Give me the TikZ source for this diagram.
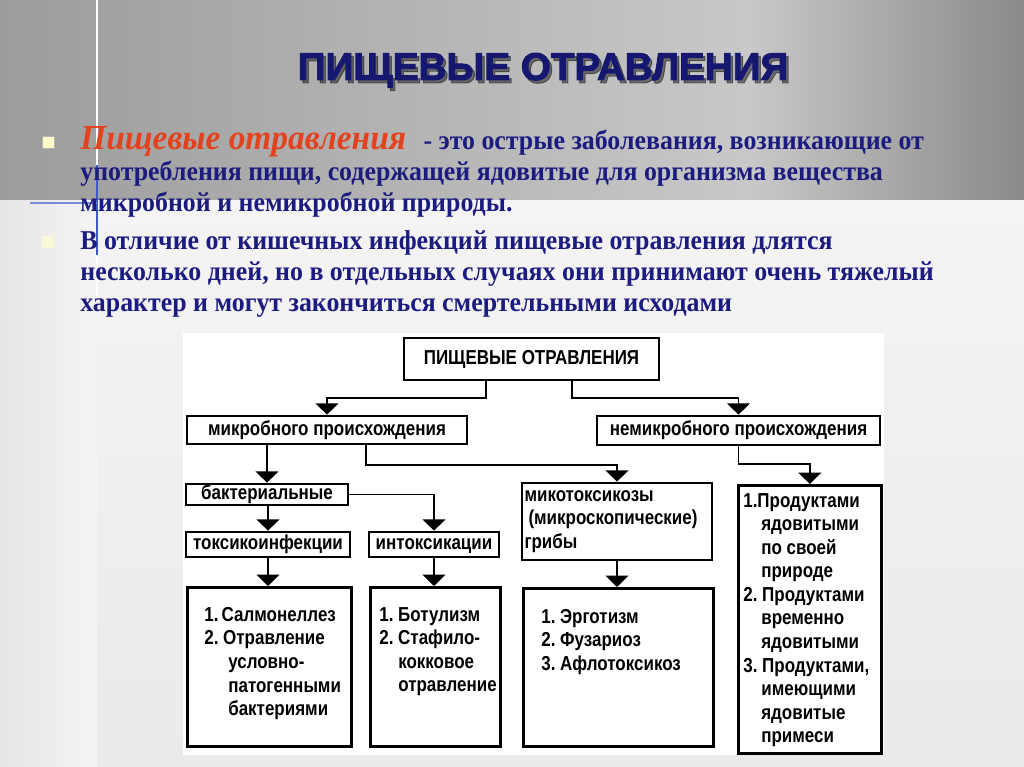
\documentclass[tikz,border=0pt]{standalone}
\usepackage{fontspec}
\setmainfont{Liberation Serif}
\newfontfamily\bodyfont[FakeStretch=0.95]{Liberation Serif}
\newfontfamily\diagfont[FakeStretch=0.84]{Liberation Sans}
\newfontfamily\headfont[FakeBold=2.5]{Liberation Sans}
\usepackage{tikz}
\usetikzlibrary{arrows.meta,calc}
\definecolor{navy}{RGB}{28,28,128}
\definecolor{headblue}{RGB}{22,24,112}
\definecolor{redtitle}{RGB}{226,66,30}
\definecolor{bandleft}{RGB}{156,156,156}
\definecolor{bandmid}{RGB}{200,200,200}
\definecolor{bandright}{RGB}{138,138,138}
\definecolor{pagetop}{RGB}{244,244,244}
\definecolor{pagebottom}{RGB}{234,234,234}
\definecolor{streak}{RGB}{60,90,200}
\tikzset{
  box/.style={draw, line width=1.5pt, inner sep=0pt, fill=white,
    font=\diagfont\bfseries\fontsize{11.5}{13.4}\selectfont},
  tag/.style={box, text height=8pt, text depth=2pt},
  arr/.style={line width=1.1pt, -{Triangle[width=13pt,length=6.5pt]}},
  bullet/.style={rectangle, minimum size=0.24cm, inner sep=0pt},
  bodytext/.style={anchor=base west, align=left, inner sep=0pt, text=navy,
    font=\bodyfont\bfseries\fontsize{15.5}{17.9}\selectfont},
  headline/.style={anchor=base, font=\headfont\bfseries\fontsize{22}{25}\selectfont},
}
\begin{document}
\begin{tikzpicture}
\useasboundingbox (0,0) rectangle (20.48,-15.34);
\shade[top color=pagetop, bottom color=pagebottom] (0,-4) rectangle (20.48,-15.34);
\shade[left color=gray!20, right color=pagetop] (0,-4) rectangle (1.94,-15.34);
\shade[left color=bandleft, right color=bandmid] (0,0) rectangle (15,-4);
\shade[left color=bandmid, right color=bandright] (15,0) rectangle (20.48,-4);
\fill[white] (3.66,-6.66) rectangle (17.68,-15.1);
\draw[white, line width=1.2pt] (1.94,0) -- (1.94,-6);
\draw[streak, line width=1.2pt] (1.94,-3.3) -- (1.94,-5.1);
\draw[streak!70, line width=1.5pt] (0.6,-4.06) -- (1.94,-4.06);

\node[headline, text=black, opacity=0.45] (headshadow) at (10.91,-1.66) {ПИЩЕВЫЕ ОТРАВЛЕНИЯ};
\node[headline, text=headblue] (head) at (10.86,-1.60) {ПИЩЕВЫЕ ОТРАВЛЕНИЯ};

\node[bullet, fill={rgb,255:red,255;green,255;blue,198}, draw=gray!60, line width=0.3pt] (b1) at (0.96,-2.84) {};
\node[bullet, fill={rgb,255:red,248;green,248;blue,214}] (b2) at (0.96,-4.84) {};
\node[bodytext] (def) at (1.6,-4.24) {{\color{redtitle}\itshape\fontsize{20}{17.9}\selectfont Пищевые отравления}\hspace{0.35cm}- это острые заболевания, возникающие от\\
употребления пищи, содержащей ядовитые для организма вещества\\
микробной и немикробной природы.};
\node[bodytext] (diff) at (1.6,-6.24) {В отличие от кишечных инфекций пищевые отравления длятся\\
несколько дней, но в отдельных случаях они принимают очень тяжелый\\
характер и могут закончиться смертельными исходами};

\node[tag, minimum width=5.1cm, minimum height=0.84cm] (pois) at (10.63,-7.18) {ПИЩЕВЫЕ ОТРАВЛЕНИЯ};
\node[tag, minimum width=5.6cm, minimum height=0.56cm] (micro) at (6.54,-8.60) {микробного происхождения};
\node[tag, minimum width=5.66cm, minimum height=0.58cm] (nonmicro) at (14.77,-8.61) {немикробного происхождения};
\node[tag, minimum width=3.24cm, minimum height=0.42cm] (bact) at (5.34,-9.89) {бактериальные};
\node[tag, minimum width=3.28cm, minimum height=0.5cm] (toxinf) at (5.36,-10.89) {токсикоинфекции};
\node[tag, minimum width=2.6cm, minimum height=0.5cm] (intox) at (8.68,-10.89) {интоксикации};
\node[box, minimum width=3.8cm, minimum height=1.54cm, text width=3.7cm, align=left] (myco) at (12.34,-10.43) {микотоксикозы\\ \hspace*{0.08cm}(микроскопические)\\грибы};

\node[box, anchor=north west, inner xsep=0.34cm, inner ysep=0.40cm] (salm) at (3.72,-11.72) {\parbox[t][2.38cm][t]{2.6cm}{\raggedright 1.~Салмонеллез\\2.~Отравление\\\hspace*{0.48cm}условно-\\\hspace*{0.48cm}патогенными\\\hspace*{0.48cm}бактериями}};
\node[box, anchor=north west, inner xsep=0.18cm, inner ysep=0.40cm] (botul) at (7.38,-11.72) {\parbox[t][2.38cm][t]{2.24cm}{\raggedright 1.~Ботулизм\\2.~Стафило-\\\hspace*{0.38cm}кокковое\\\hspace*{0.38cm}отравление}};
\node[box, anchor=north west, inner xsep=0.36cm, inner ysep=0.42cm] (ergot) at (10.44,-11.74) {\parbox[t][2.32cm][t]{3.08cm}{\raggedright 1.~Эрготизм\\2.~Фузариоз\\3.~Афлотоксикоз}};
\node[box, anchor=north west, inner xsep=0.10cm, inner ysep=0.16cm] (prod) at (14.74,-9.68) {\parbox[t][5.04cm][t]{2.66cm}{\raggedright 1.Продуктами\\\hspace*{0.36cm}ядовитыми\\\hspace*{0.36cm}по своей\\\hspace*{0.36cm}природе\\2.~Продуктами\\\hspace*{0.36cm}временно\\\hspace*{0.36cm}ядовитыми\\3.~Продуктами,\\\hspace*{0.36cm}имеющими\\\hspace*{0.36cm}ядовитые\\\hspace*{0.36cm}примеси}};

\draw[arr] ([xshift=-0.91cm]pois.south) -- ++(0,-0.34) -| (micro.north);
\draw[arr] ([xshift=0.81cm]pois.south) -- ++(0,-0.34) -| (nonmicro.north);
\draw[arr] (micro.south -| bact.north) -- (bact.north);
\draw[arr] ([xshift=0.78cm]micro.south) -- ++(0,-0.4) -| (myco.north);
\draw[arr] (nonmicro.south) -- ++(0,-0.36) -| (prod.north);
\draw[arr] (bact.east) -| (intox.north);
\draw[arr] (bact.south -| toxinf.north) -- (toxinf.north);
\draw[arr] (toxinf.south) -- (toxinf.south |- salm.north);
\draw[arr] (intox.south) -- (intox.south |- botul.north);
\draw[arr] (myco.south) -- (myco.south |- ergot.north);
\end{tikzpicture}
\end{document}
